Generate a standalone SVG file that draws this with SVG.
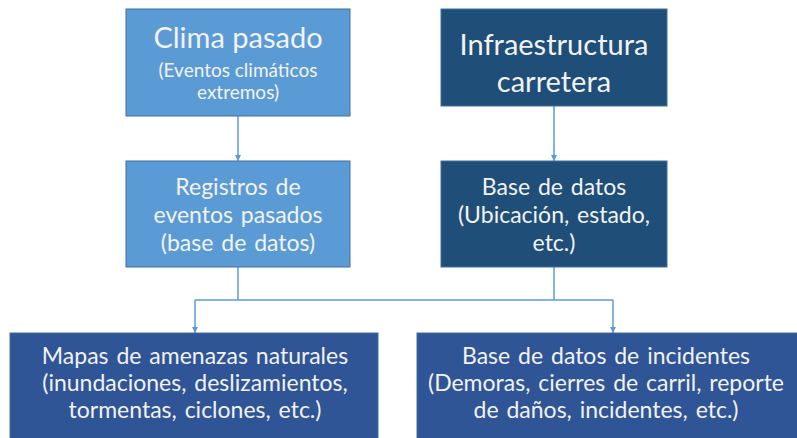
<svg xmlns="http://www.w3.org/2000/svg" width="797" height="438" viewBox="0 0 797 438">
<defs>
<style>
.light{fill:#5B9BD5;stroke:#41719C;stroke-width:1}
.dark{fill:#1F4E79;stroke:#41719C;stroke-width:1}
.mid{fill:#2F5597;stroke:#41719C;stroke-width:1}
text{font-family:Lato,"Open Sans",sans-serif;fill:#F2F2F2;text-anchor:middle}
.big{font-size:29px}
.sm{font-size:19px}
.md{font-size:23px;word-spacing:2px}
.con{fill:none;stroke:#5B9BD5;stroke-width:1.5}
</style>
<marker id="ah" viewBox="0 0 10 10" refX="10" refY="5" markerWidth="6" markerHeight="6" markerUnits="userSpaceOnUse" orient="auto">
<path d="M0,0 L10,5 L0,10 z" fill="#5B9BD5"/>
</marker>
</defs>
<rect width="797" height="438" fill="#FFFFFF"/>
<g id="connectors">
<path class="con" d="M238,116 V161" marker-end="url(#ah)"/>
<path class="con" d="M554,106 V161" marker-end="url(#ah)"/>
<path class="con" d="M238,267 V300"/>
<path class="con" d="M554,267 V300"/>
<path class="con" d="M195,300 H613"/>
<path class="con" d="M195,300 V333" marker-end="url(#ah)"/>
<path class="con" d="M613,300 V333" marker-end="url(#ah)"/>
</g>
<g id="clima">
<rect class="light" x="126" y="9" width="224" height="107"/>
<text class="big" x="238" y="48">Clima pasado</text>
<text class="sm" x="238" y="77">(Eventos climáticos</text>
<text class="sm" x="238" y="99">extremos)</text>
</g>
<g id="infra">
<rect class="dark" x="441" y="9" width="226" height="97"/>
<text class="big" x="554" y="55">Infraestructura</text>
<text class="big" x="554" y="92">carretera</text>
</g>
<g id="registros">
<rect class="light" x="126" y="161" width="224" height="106"/>
<text class="md" x="238" y="195">Registros de</text>
<text class="md" x="238" y="223">eventos pasados</text>
<text class="md" x="238" y="251">(base de datos)</text>
</g>
<g id="basedatos">
<rect class="dark" x="441" y="161" width="226" height="106"/>
<text class="md" x="554" y="195">Base de datos</text>
<text class="md" x="554" y="223">(Ubicación, estado,</text>
<text class="md" x="554" y="251">etc.)</text>
</g>
<g id="mapas">
<rect class="mid" x="10" y="333" width="368" height="110"/>
<text class="md" x="195" y="364">Mapas de amenazas naturales</text>
<text class="md" x="195" y="391">(inundaciones, deslizamientos,</text>
<text class="md" x="195" y="418">tormentas, ciclones, etc.)</text>
</g>
<g id="incidentes">
<rect class="mid" x="417" y="333" width="390" height="110"/>
<text class="md" x="606" y="364">Base de datos de incidentes</text>
<text class="md" x="606" y="391">(Demoras, cierres de carril, reporte</text>
<text class="md" x="606" y="418">de daños, incidentes, etc.)</text>
</g>
</svg>
